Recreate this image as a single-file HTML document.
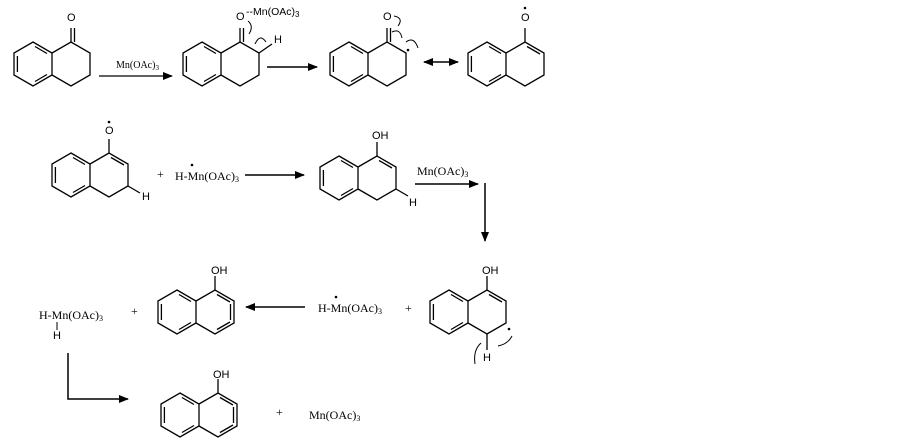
<!DOCTYPE html>
<html><head><meta charset="utf-8"><style>
body{margin:0;background:#fff}
svg{display:block}
.s{font-family:"Liberation Serif",serif;font-size:12px;fill:#000}
.a{font-family:"Liberation Sans",sans-serif;font-size:11px;fill:#000}
</style></head><body>
<svg width="903" height="444" viewBox="0 0 903 444" xmlns="http://www.w3.org/2000/svg">
<defs>
<marker id="ah" markerWidth="10" markerHeight="8" refX="9" refY="4" orient="auto" markerUnits="userSpaceOnUse"><path d="M0,0 L10,4 L0,8 z" fill="#000"/></marker>
<marker id="ahs" markerWidth="10" markerHeight="8" refX="1" refY="4" orient="auto" markerUnits="userSpaceOnUse"><path d="M10,0 L0,4 L10,8 z" fill="#000"/></marker>
<g id="bi" fill="none" stroke="#000" stroke-width="1.3">
<path d="M0,-22 L19,-11 L19,11 L0,22 L-19,11 L-19,-11 Z M19,-11 L38,-22 L57,-11 L57,11 L38,22 L19,11"/>
<path d="M-15.6,-8 L-15.6,8 M2,-17.5 L14,-10.5 M2,17.5 L14,10.5"/>
</g>
<g id="ket" fill="none" stroke="#000" stroke-width="1.3"><path d="M38,-22 L38,-36 M41.5,-22 L41.5,-36"/></g>
<g id="enol" fill="none" stroke="#000" stroke-width="1.3"><path d="M38,-22 L38,-36 M40,-17.5 L53,-10"/></g>
<g id="naph" fill="none" stroke="#000" stroke-width="1.3"><path d="M38,-22 L38,-36 M40,-17.5 L53,-10 M53.5,-8 L53.5,8 M40,17.5 L53,10"/></g>
</defs>

<!-- Row 1 -->
<g transform="translate(33,64)"><use href="#bi"/><use href="#ket"/></g>
<text class="a" x="67" y="21">O</text>
<line x1="99" y1="76" x2="172" y2="76" stroke="#000" stroke-width="1.3" marker-end="url(#ah)"/>
<text class="s" x="116" y="68" style="font-size:10px">Mn(OAc)<tspan font-size="7" dy="2">3</tspan></text>

<g transform="translate(202,64)"><use href="#bi"/><use href="#ket"/></g>
<text class="a" x="236" y="20">O</text>
<text class="a" x="246" y="15" style="font-size:10.5px">--Mn(OAc)<tspan font-size="8" dy="2">3</tspan></text>
<path d="M259,53 L272,44" stroke="#000" stroke-width="1.3"/>
<text class="a" x="274" y="43">H</text>
<path d="M248,21 Q254,26 249,34" fill="none" stroke="#000" stroke-width="1"/>
<path d="M255,44 Q260,33 266,42" fill="none" stroke="#000" stroke-width="1"/>
<line x1="267" y1="67" x2="317" y2="67" stroke="#000" stroke-width="1.5" marker-end="url(#ah)"/>

<g transform="translate(349,64)"><use href="#bi"/><use href="#ket"/></g>
<text class="a" x="383" y="20">O</text>
<circle cx="408" cy="50" r="1.3"/>
<path d="M394,16 Q404,18 398,26" fill="none" stroke="#000" stroke-width="1"/>
<path d="M392,32 Q400,28 402,38" fill="none" stroke="#000" stroke-width="1"/>
<path d="M406,42 Q414,36 418,48" fill="none" stroke="#000" stroke-width="1"/>
<line x1="424" y1="62" x2="458" y2="62" stroke="#000" stroke-width="1.5" marker-end="url(#ah)" marker-start="url(#ahs)"/>

<g transform="translate(487,64)"><use href="#bi"/><use href="#enol"/></g>
<text class="a" x="521" y="21">O</text>
<circle cx="525" cy="8" r="1.3"/>

<!-- Row 2 -->
<g transform="translate(71,175)"><use href="#bi"/><use href="#enol"/></g>
<text class="a" x="105" y="134">O</text>
<circle cx="109" cy="122" r="1.3"/>
<path d="M128,186 L140,193" stroke="#000" stroke-width="1.3"/>
<text class="a" x="142" y="200">H</text>
<text class="s" x="157" y="178">+</text>
<text class="s" x="175" y="180">H-Mn(OAc)<tspan font-size="8" dy="2">3</tspan></text>
<circle cx="192" cy="165" r="1.3"/>
<line x1="245" y1="175" x2="304" y2="175" stroke="#000" stroke-width="1.5" marker-end="url(#ah)"/>

<g transform="translate(339,178)"><use href="#bi"/><use href="#enol"/></g>
<text class="a" x="372" y="139">OH</text>
<path d="M396,189 L408,196" stroke="#000" stroke-width="1.3"/>
<text class="a" x="409" y="206">H</text>
<line x1="415" y1="184" x2="478" y2="184" stroke="#000" stroke-width="1.5" marker-end="url(#ah)"/>
<text class="s" x="417" y="175">Mn(OAc)<tspan font-size="8" dy="2">3</tspan></text>
<line x1="485" y1="183" x2="485" y2="241" stroke="#000" stroke-width="1.5" marker-end="url(#ah)"/>

<!-- Row 3 -->
<g transform="translate(449,312)"><use href="#bi"/><use href="#enol"/></g>
<text class="a" x="482" y="274">OH</text>
<line x1="487" y1="334" x2="487" y2="350" stroke="#000" stroke-width="1.3"/>
<text class="a" x="483" y="361">H</text>
<circle cx="509" cy="329" r="1.3"/>
<path d="M498,346 Q508,344 512,336" fill="none" stroke="#000" stroke-width="1"/>
<path d="M481,343 Q473,350 475,364" fill="none" stroke="#000" stroke-width="1"/>
<text class="s" x="405" y="312">+</text>
<text class="s" x="318" y="312">H-Mn(OAc)<tspan font-size="8" dy="2">3</tspan></text>
<circle cx="336" cy="297" r="1.3"/>
<line x1="305" y1="307" x2="246" y2="307" stroke="#000" stroke-width="1.5" marker-end="url(#ah)"/>

<g transform="translate(177,312)"><use href="#bi"/><use href="#naph"/></g>
<text class="a" x="211" y="274">OH</text>
<text class="s" x="131" y="315">+</text>
<text class="s" x="39" y="319">H-Mn(OAc)<tspan font-size="8" dy="2">3</tspan></text>
<line x1="57" y1="322" x2="57" y2="330" stroke="#000" stroke-width="1"/>
<text class="a" x="53" y="339">H</text>
<polyline points="68,353 68,399 128,399" fill="none" stroke="#000" stroke-width="1.5" marker-end="url(#ah)"/>

<g transform="translate(180,415)"><use href="#bi"/><use href="#naph"/></g>
<text class="a" x="213" y="378">OH</text>
<text class="s" x="276" y="416">+</text>
<text class="s" x="309" y="419">Mn(OAc)<tspan font-size="8" dy="2">3</tspan></text>
</svg>
</body></html>
